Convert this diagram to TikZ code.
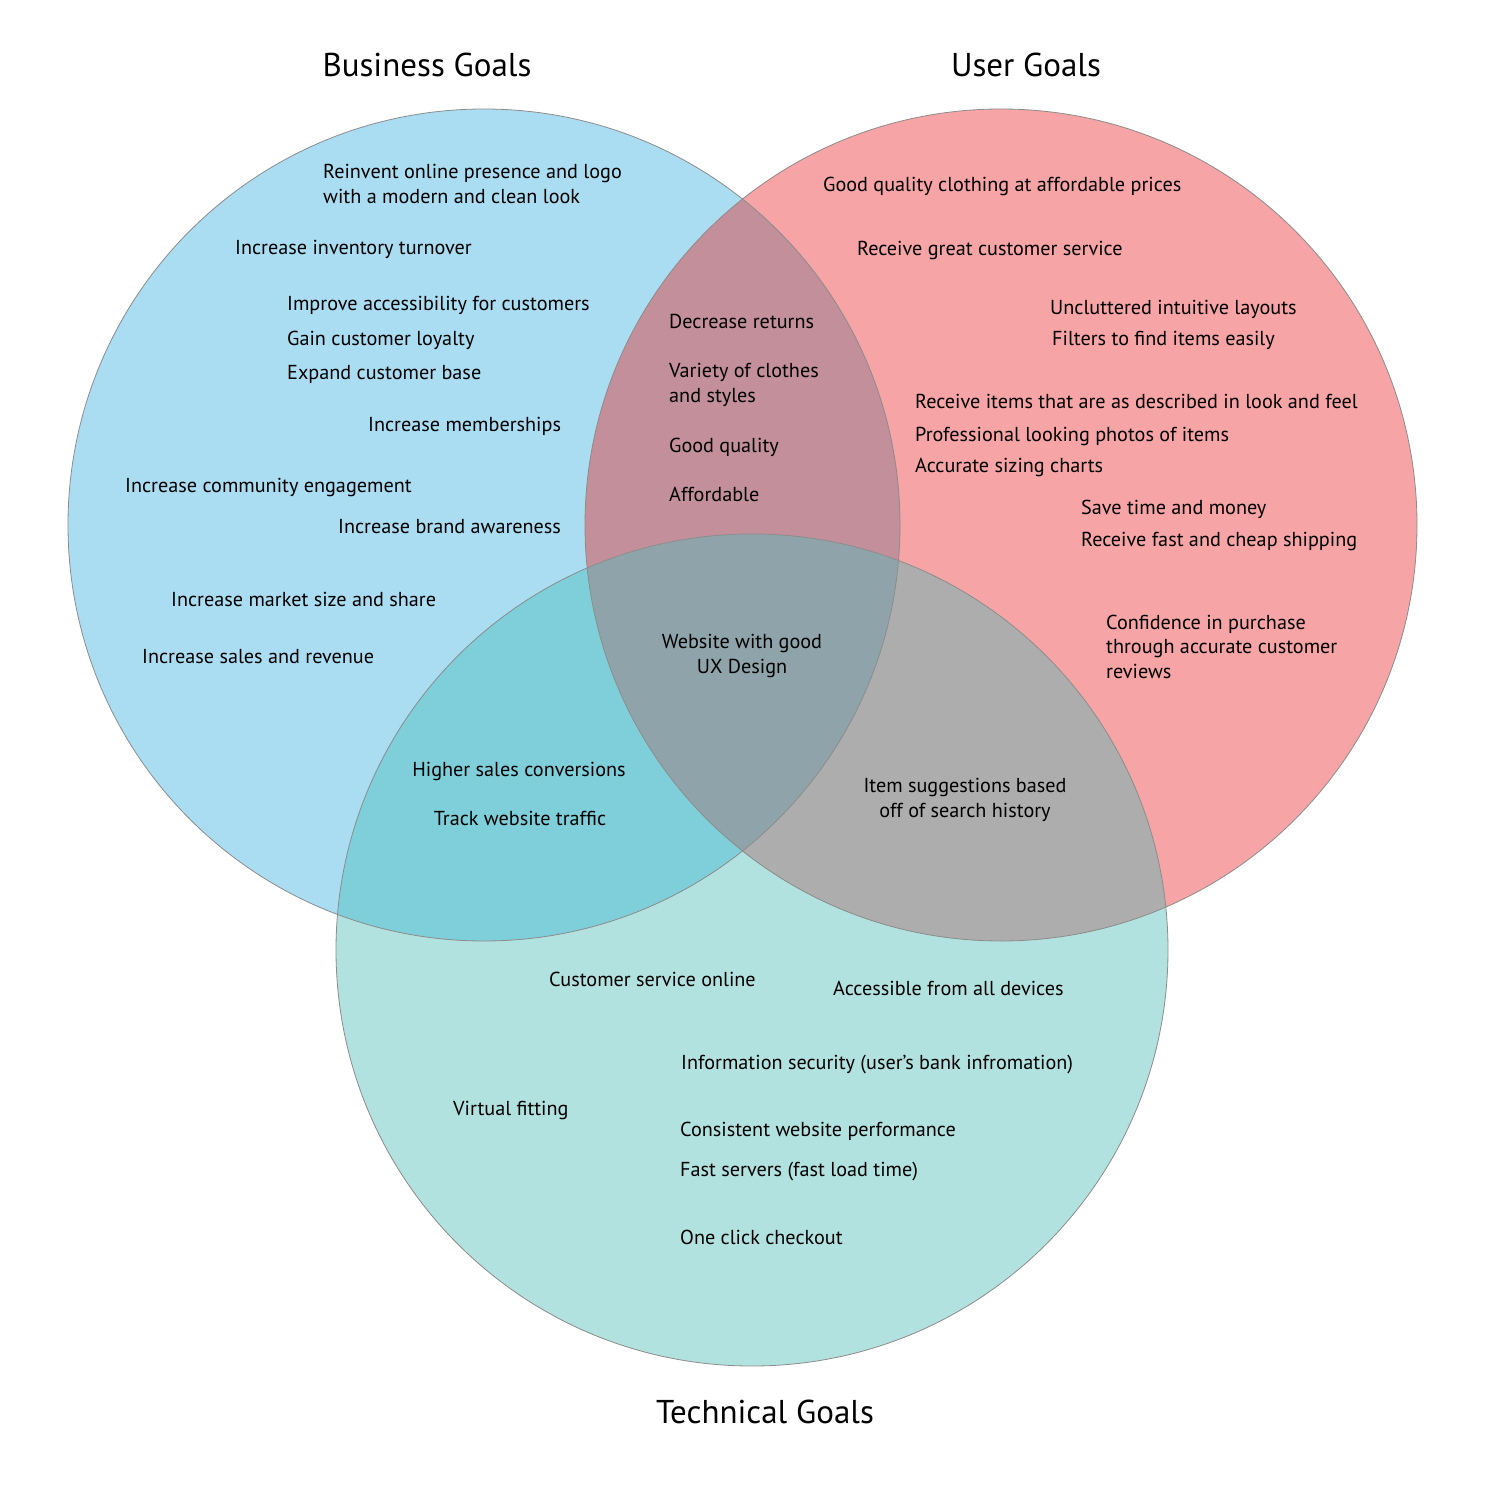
\documentclass[tikz,border=0pt]{standalone}
\usepackage{fontspec}
\setmainfont{PT Sans}
\begin{document}
\begin{tikzpicture}[x=1pt,y=-1pt,
  goal/.style={anchor=base west,inner sep=0pt,font=\fontsize{20.2}{24.5}\selectfont,align=left},
  goalc/.style={anchor=base,inner sep=0pt,font=\fontsize{20.2}{24.5}\selectfont,align=center},
  title/.style={anchor=base,inner sep=0pt,font=\fontsize{33}{38}\selectfont},
  rim/.style={draw=black!45,line width=0.8pt}]
\definecolor{bizblue}{RGB}{170,221,242}
\definecolor{userred}{RGB}{246,164,165}
\definecolor{techteal}{RGB}{178,226,223}
\definecolor{bizuser}{RGB}{195,143,155}
\definecolor{biztech}{RGB}{126,207,217}
\definecolor{usertech}{RGB}{173,173,173}
\definecolor{allthree}{RGB}{143,164,170}
\useasboundingbox (0,0) rectangle (1500,1488);
\fill[white] (0,0) rectangle (1500,1488);
% circle centres and radius
\coordinate (cb) at (484,525);
\coordinate (cu) at (1001,525);
\coordinate (ct) at (752,950);
\def\rad{416}
% base discs
\fill[bizblue] (cb) circle[radius=\rad];
\fill[userred] (cu) circle[radius=\rad];
\fill[techteal] (ct) circle[radius=\rad];
% pairwise overlaps
\begin{scope}
  \clip (cb) circle[radius=\rad];
  \fill[bizuser] (cu) circle[radius=\rad];
  \fill[biztech] (ct) circle[radius=\rad];
\end{scope}
\begin{scope}
  \clip (cu) circle[radius=\rad];
  \fill[usertech] (ct) circle[radius=\rad];
\end{scope}
% triple overlap
\begin{scope}
  \clip (cb) circle[radius=\rad];
  \clip (cu) circle[radius=\rad];
  \fill[allthree] (ct) circle[radius=\rad];
\end{scope}
% outlines
\draw[rim] (cb) circle[radius=\rad];
\draw[rim] (cu) circle[radius=\rad];
\draw[rim] (ct) circle[radius=\rad];
% titles
\node[title] (tb) at (427,77) {Business Goals};
\node[title] (tu) at (1026,77) {User Goals};
\node[title] (tt) at (765,1423) {Technical Goals};
% business goals (multi-line nodes are placed by their last baseline)
\node[goal] (b1) at (323,203) {Reinvent online presence and logo\\with a modern and clean look};
\node[goal] (b2) at (235,254) {Increase inventory turnover};
\node[goal] (b3) at (287,310) {Improve accessibility for customers};
\node[goal] (b4) at (287,345) {Gain customer loyalty};
\node[goal] (b5) at (287,379) {Expand customer base};
\node[goal] (b6) at (368,431) {Increase memberships};
\node[goal] (b7) at (125,492) {Increase community engagement};
\node[goal] (b8) at (338,533) {Increase brand awareness};
\node[goal] (b9) at (171,606) {Increase market size and share};
\node[goal] (b10) at (142,663) {Increase sales and revenue};
% business and user
\node[goal] (bu1) at (669,328) {Decrease returns};
\node[goal] (bu2) at (669,402) {Variety of clothes\\and styles};
\node[goal] (bu3) at (669,452) {Good quality};
\node[goal] (bu4) at (669,501) {Affordable};
% user goals
\node[goal] (u1) at (823,191) {Good quality clothing at affordable prices};
\node[goal] (u2) at (857,255) {Receive great customer service};
\node[goal] (u3) at (1050,314) {Uncluttered intuitive layouts};
\node[goal] (u4) at (1052,345) {Filters to find items easily};
\node[goal] (u5) at (915,408) {Receive items that are as described in look and feel};
\node[goal] (u6) at (915,441) {Professional looking photos of items};
\node[goal] (u7) at (915,472) {Accurate sizing charts};
\node[goal] (u8) at (1081,514) {Save time and money};
\node[goal] (u9) at (1081,546) {Receive fast and cheap shipping};
\node[goal] (u10) at (1106,678) {Confidence in purchase\\through accurate customer\\reviews};
% all three
\node[goalc] (all) at (742,673) {Website with good\\UX Design};
% business and technical
\node[goalc] (bt1) at (519,776) {Higher sales conversions};
\node[goalc] (bt2) at (520,825) {Track website traffic};
% user and technical
\node[goalc] (ut1) at (965,817) {Item suggestions based\\off of search history};
% technical goals
\node[goal] (t1) at (549,986) {Customer service online};
\node[goal] (t2) at (833,995) {Accessible from all devices};
\node[goal] (t3) at (681,1069) {Information security (user’s bank infromation)};
\node[goal] (t4) at (453,1115) {Virtual fitting};
\node[goal] (t5) at (680,1136) {Consistent website performance};
\node[goal] (t6) at (680,1176) {Fast servers (fast load time)};
\node[goal] (t7) at (680,1244) {One click checkout};
\end{tikzpicture}
\end{document}
